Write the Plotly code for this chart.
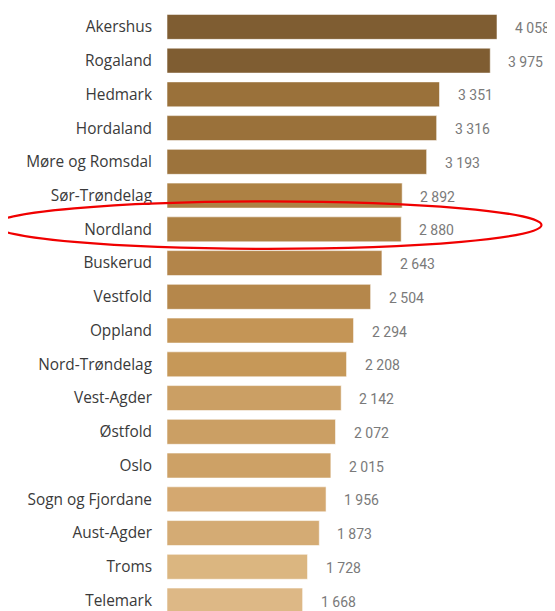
import plotly.graph_objects as go

categories = ["Akershus", "Rogaland", "Hedmark", "Hordaland", "Møre og Romsdal",
              "Sør-Trøndelag", "Nordland", "Buskerud", "Vestfold", "Oppland",
              "Nord-Trøndelag", "Vest-Agder", "Østfold", "Oslo", "Sogn og Fjordane",
              "Aust-Agder", "Troms", "Telemark"]
values = [4058, 3975, 3351, 3316, 3193, 2892, 2880, 2643, 2504, 2294,
          2208, 2142, 2072, 2015, 1956, 1873, 1728, 1668]
bar_colors = ["#7F5D32", "#7F5D32", "#9A713A", "#9A713A", "#9C733C",
              "#AD8144", "#AD8144", "#B3854A", "#B5874B", "#C49556",
              "#C69858", "#CB9F64", "#CB9F64", "#CDA166", "#D4A870",
              "#D4AB74", "#DBB680", "#DDB886"]
value_labels = [f"{v:,}".replace(",", " ") for v in values]

# the page body adds an 8px offset, so the figure is 8px smaller
OFF = 8
W, H = 555 - OFF, 611 - OFF
ml, mr, mt, mb = 167 - OFF, 0, 9.5 - OFF, 0

fig = go.Figure()
fig.add_trace(go.Bar(
    x=values, y=categories, orientation="h",
    marker=dict(color=bar_colors, line=dict(color="rgba(255,255,255,0.55)", width=1)),
    hoverinfo="skip",
))

for c, v, t in zip(categories, values, value_labels):
    fig.add_annotation(x=v, y=c, text=t, showarrow=False, xanchor="left",
                       xshift=16, yshift=-1,
                       font=dict(family="Roboto", size=14, color="#7a7a7a"))

# red highlight ellipse around Nordland (page pixel geometry -> paper coords)
pw, ph = W - ml - mr, H - mt - mb
def px(x):
    return (x - OFF - ml) / pw
def py(y):
    return (H - mb - (y - OFF)) / ph
fig.add_shape(type="circle", xref="paper", yref="paper",
              x0=px(-6), x1=px(541.5), y0=py(248.5), y1=py(201),
              line=dict(color="#F00000", width=2.2), fillcolor="rgba(0,0,0,0)")

fig.update_layout(
    width=W, height=H,
    margin=dict(l=ml, r=mr, t=mt, b=mb, pad=0, autoexpand=False),
    plot_bgcolor="white", paper_bgcolor="white",
    bargap=0.26,
    showlegend=False,
    xaxis=dict(visible=False, range=[0, pw / 0.08132], automargin=False),
    yaxis=dict(range=[17.31, -0.5], showgrid=False, zeroline=False, showline=False,
               ticks="", ticklabelstandoff=14, automargin=False,
               tickfont=dict(family="Open Sans", size=15.4, color="#3a3a3a")),
)

fig.write_html("out.html")
